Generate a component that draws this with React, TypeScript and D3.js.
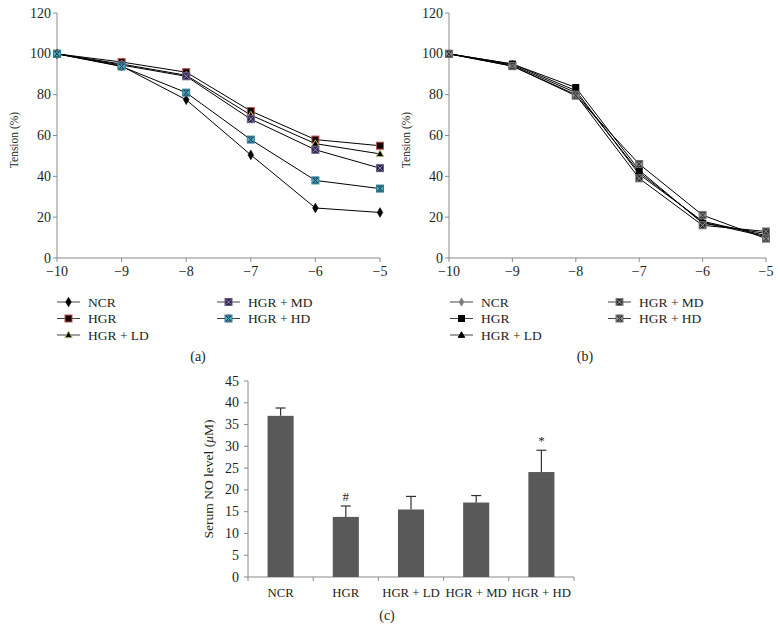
import React from "react";
import * as d3 from "d3";

// concentrations (log M)
const doses = [-10, -9, -8, -7, -6, -5];
const groups = ["NCR", "HGR", "HGR + LD", "HGR + MD", "HGR + HD"];

// panel (a) tension %
const aNCR = [100, 94, 77.5, 50.5, 24.5, 22.3];
const aHGR = [100, 96, 91, 72, 58, 55];
const aLD = [100, 95, 89.5, 70, 56, 51];
const aMD = [100, 94.5, 89, 68, 53, 44];
const aHD = [100, 93.8, 81, 58, 38, 34];

// panel (b) tension %
const bNCR = [100, 95, 82, 41, 18, 11];
const bHGR = [100, 95, 83.5, 43, 17, 12];
const bLD = [100, 94.5, 81, 42, 17.5, 10.5];
const bMD = [100, 94, 80, 39, 16, 13];
const bHD = [100, 94, 79.5, 46, 21, 9.5];

const tensionTicks = [0, 20, 40, 60, 80, 100, 120];

// panel (c) serum NO
const noMean = [37, 13.8, 15.5, 17.1, 24.1];
const noErr = [1.8, 2.5, 3, 1.6, 5];
const noMarks = ["", "#", "", "", "*"];
const noTicks = [0, 5, 10, 15, 20, 25, 30, 35, 40, 45];

const FONT = "Liberation Serif, Times New Roman, Times, serif";
const AXIS = "#8a8a8a";

type MarkerKind = "diamond" | "square" | "triangle" | "xsquare" | "starsquare";
interface MStyle {
  kind: MarkerKind;
  fill: string;
  stroke: string;
  inner?: string;
  size: number;
}

const aStyles: MStyle[] = [
  { kind: "diamond", fill: "#000", stroke: "#000", size: 7 },
  { kind: "square", fill: "#120606", stroke: "#c0504d", size: 7 },
  { kind: "triangle", fill: "#000", stroke: "#a8c060", size: 7 },
  { kind: "xsquare", fill: "#2c2340", stroke: "#6a5a8c", inner: "#9c8cc4", size: 7 },
  { kind: "starsquare", fill: "#4bacc6", stroke: "#2f7f96", inner: "#1e3640", size: 7 },
];
const bStyles: MStyle[] = [
  { kind: "diamond", fill: "#7a7a7a", stroke: "#7a7a7a", size: 6 },
  { kind: "square", fill: "#000", stroke: "#000", size: 6 },
  { kind: "triangle", fill: "#000", stroke: "#000", size: 6 },
  { kind: "xsquare", fill: "#2a2a2a", stroke: "#808080", inner: "#9a9a9a", size: 7 },
  { kind: "starsquare", fill: "#8a8a8a", stroke: "#6a6a6a", inner: "#2a2a2a", size: 7 },
];

const Marker = ({ x, y, s }: { x: number; y: number; s: MStyle }) => {
  const h = s.size / 2;
  if (s.kind === "diamond") {
    const p = d3.symbol(d3.symbolDiamond, s.size * s.size * 0.55)();
    return <path d={p || ""} transform={`translate(${x},${y})`} fill={s.fill} stroke={s.stroke} strokeWidth={0.6} />;
  }
  if (s.kind === "triangle") {
    const p = d3.symbol(d3.symbolTriangle, s.size * s.size * 0.5)();
    return <path d={p || ""} transform={`translate(${x},${y + 0.5})`} fill={s.fill} stroke={s.stroke} strokeWidth={1} />;
  }
  return (
    <g transform={`translate(${x},${y})`}>
      <rect x={-h} y={-h} width={s.size} height={s.size} fill={s.fill} stroke={s.stroke} strokeWidth={1} />
      {(s.kind === "xsquare" || s.kind === "starsquare") && (
        <path d={`M${-h + 1},${-h + 1}L${h - 1},${h - 1}M${h - 1},${-h + 1}L${-h + 1},${h - 1}`} stroke={s.inner} strokeWidth={1} />
      )}
      {s.kind === "starsquare" && <path d={`M${-h + 1},${-h + 1}H${h - 1}M${-h + 1},${h - 1}H${h - 1}`} stroke={s.inner} strokeWidth={0.8} />}
    </g>
  );
};

interface PanelProps {
  x0: number;
  x1: number;
  series: number[][];
  styles: MStyle[];
  legendX: number[];
  label: string;
  labelX: number;
}

const LinePanel = ({ x0, x1, series, styles, legendX, label, labelX }: PanelProps) => {
  const x = d3.scaleLinear().domain([-10, -5]).range([x0, x1]);
  const y = d3.scaleLinear().domain([0, 120]).range([258, 13]);
  const line = d3
    .line<number>()
    .x((_, i) => x(doses[i]))
    .y((d) => y(d));
  const legendRows = [302, 318.5, 335];
  return (
    <g fontFamily={FONT} fill="#231f20">
      {/* axes */}
      <line x1={x0} x2={x0} y1={y(120)} y2={y(0)} stroke={AXIS} />
      <line x1={x0} x2={x1} y1={y(0)} y2={y(0)} stroke={AXIS} />
      {tensionTicks.map((t) => (
        <g key={t}>
          <line x1={x0 - 4} x2={x0} y1={y(t)} y2={y(t)} stroke={AXIS} />
          <text x={x0 - 6} y={y(t) + 4.5} textAnchor="end" fontSize={14}>
            {t}
          </text>
        </g>
      ))}
      {doses.map((d) => (
        <g key={d}>
          <line x1={x(d)} x2={x(d)} y1={y(0)} y2={y(0) + 4} stroke={AXIS} />
          <text x={x(d)} y={276} textAnchor="middle" fontSize={14}>
            {"\u2212" + Math.abs(d)}
          </text>
        </g>
      ))}
      <text transform={`translate(${x0 - 39},140) rotate(-90)`} textAnchor="middle" fontSize={11.5}>
        Tension (%)
      </text>
      {/* series */}
      {series.map((s, i) => (
        <path key={i} d={line(s) || ""} fill="none" stroke="#000" strokeWidth={1} />
      ))}
      {series.map((s, i) =>
        s.map((v, j) => <Marker key={i + "-" + j} x={x(doses[j])} y={y(v)} s={styles[i]} />)
      )}
      {/* legend */}
      {groups.map((g, i) => {
        const col = i < 3 ? 0 : 1;
        const ly = legendRows[i < 3 ? i : i - 3];
        const lx = legendX[col];
        return (
          <g key={g}>
            <line x1={lx} x2={lx + 23} y1={ly} y2={ly} stroke="#444" />
            <Marker x={lx + 11.5} y={ly} s={styles[i]} />
            <text x={lx + 31} y={ly + 4.5} fontSize={13.5}>
              {g}
            </text>
          </g>
        );
      })}
      <text x={labelX} y={361} textAnchor="middle" fontSize={14}>
        {label}
      </text>
    </g>
  );
};

const BarPanel = () => {
  const x = d3.scaleBand().domain(groups).range([248, 574]).paddingInner(0.6).paddingOuter(0.3);
  const xb = d3.scaleBand().domain(groups).range([248, 574]);
  const y = d3.scaleLinear().domain([0, 45]).range([577, 381]);
  return (
    <g fontFamily={FONT} fill="#231f20">
      <line x1={248} x2={248} y1={y(45)} y2={y(0)} stroke={AXIS} />
      <line x1={248} x2={574} y1={y(0)} y2={y(0)} stroke={AXIS} />
      {noTicks.map((t) => (
        <g key={t}>
          <line x1={244} x2={248} y1={y(t)} y2={y(t)} stroke={AXIS} />
          <text x={239} y={y(t) + 4.5} textAnchor="end" fontSize={14}>
            {t}
          </text>
        </g>
      ))}
      {[...groups.map((g) => xb(g) as number), 574].map((v, i) => (
        <line key={i} x1={v} x2={v} y1={y(0)} y2={y(0) + 4} stroke={AXIS} />
      ))}
      {groups.map((g, i) => {
        const bx = x(g) as number;
        const bw = x.bandwidth();
        const cx = bx + bw / 2;
        const top = y(noMean[i] + noErr[i]);
        return (
          <g key={g}>
            <rect x={bx} y={y(noMean[i])} width={bw} height={y(0) - y(noMean[i])} fill="#595959" />
            <line x1={cx} x2={cx} y1={y(noMean[i])} y2={top} stroke="#333" strokeWidth={1.2} />
            <line x1={cx - 5} x2={cx + 5} y1={top} y2={top} stroke="#333" strokeWidth={1.2} />
            {noMarks[i] && (
              <text x={cx} y={top - 5} textAnchor="middle" fontSize={13}>
                {noMarks[i]}
              </text>
            )}
            <text x={(xb(g) as number) + xb.bandwidth() / 2} y={597} textAnchor="middle" fontSize={12.8}>
              {g}
            </text>
          </g>
        );
      })}
      <text transform="translate(213,479) rotate(-90)" textAnchor="middle" fontSize={13.5}>
        Serum NO level (<tspan fontStyle="italic">μ</tspan>M)
      </text>
      <text x={387} y={620} textAnchor="middle" fontSize={14}>
        (c)
      </text>
    </g>
  );
};

export default function App() {
  return (
    <svg width={780} height={641} style={{ position: "absolute", left: 0, top: 0, background: "#fff" }}>
      <rect width={780} height={641} fill="#fff" />
      <LinePanel
        x0={57}
        x1={380}
        series={[aNCR, aHGR, aLD, aMD, aHD]}
        styles={aStyles}
        legendX={[57, 217]}
        label="(a)"
        labelX={198}
      />
      <LinePanel
        x0={449}
        x1={766}
        series={[bNCR, bHGR, bLD, bMD, bHD]}
        styles={bStyles}
        legendX={[450, 608]}
        label="(b)"
        labelX={585}
      />
      <BarPanel />
    </svg>
  );
}
